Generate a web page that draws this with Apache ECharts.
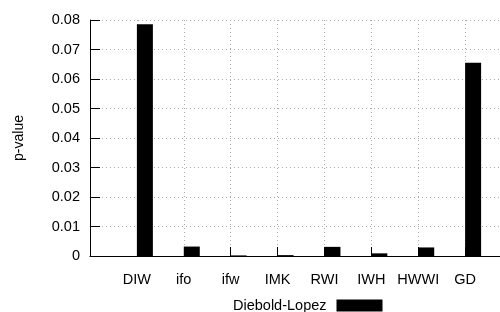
<!DOCTYPE html>
<html>
<head>
<meta charset="utf-8">
<script src="https://cdn.jsdelivr.net/npm/echarts@6/dist/echarts.min.js"></script>
<style>html,body{margin:0;padding:0;background:#fff;}#c{width:500px;height:312px;}</style>
</head>
<body>
<div id="c"></div>
<script>
const categories = ['DIW', 'ifo', 'ifw', 'IMK', 'RWI', 'IWH', 'HWWI', 'GD'];
const pValues = [0.0786, 0.0032, 0.0002, 0.0003, 0.0031, 0.0009, 0.0029, 0.0655];
const seriesName = 'Diebold-Lopez';
const yTicks = [0, 0.01, 0.02, 0.03, 0.04, 0.05, 0.06, 0.07, 0.08];

const font = 'Liberation Sans, Arial, sans-serif';
// padded category list: an empty slot at the axis origin and one past the right edge
const axisCats = [''].concat(categories, ['']);
const barData = [null].concat(pValues, [null]);

const chart = echarts.init(document.getElementById('c'), null, {renderer: 'canvas'});
chart.setOption({
  animation: false,
  backgroundColor: '#fff',
  grid: {left: 90, right: -12, top: 20, bottom: 56, containLabel: false, outerBoundsMode: 'none'},
  legend: {
    data: [seriesName],
    left: 233, top: 298, padding: 0,
    align: 'right',
    itemWidth: 46, itemHeight: 12,
    icon: 'rect',
    textStyle: {fontFamily: font, fontSize: 14.5, color: '#000', padding: [0, 5, 0, 0]}
  },
  xAxis: {
    type: 'category',
    data: axisCats,
    boundaryGap: false,
    axisLine: {show: true, lineStyle: {color: '#000', width: 1}},
    axisTick: {show: true, inside: true, length: 9, lineStyle: {color: '#000'}},
    axisLabel: {margin: 16, fontFamily: font, fontSize: 14.5, color: '#000', interval: 0},
    splitLine: {show: true, interval: 0, lineStyle: {color: '#aaa', type: [1, 3], width: 1}}
  },
  yAxis: {
    type: 'value',
    min: yTicks[0], max: yTicks[yTicks.length - 1], interval: 0.01,
    name: 'p-value', nameLocation: 'middle', nameGap: 64, nameRotate: 90,
    nameTextStyle: {fontFamily: font, fontSize: 14, color: '#000'},
    axisLine: {show: true, lineStyle: {color: '#000', width: 1}},
    axisTick: {show: true, inside: true, length: 10, lineStyle: {color: '#000'}},
    axisLabel: {margin: 10, fontFamily: font, fontSize: 14.5, color: '#000',
      formatter: v => String(+v.toFixed(2))},
    splitLine: {show: true, lineStyle: {color: '#aaa', type: [1, 3], width: 1}}
  },
  series: [
    {name: 'spacer', type: 'bar', data: axisCats.map(() => null), barWidth: 16, barGap: 0, silent: true, itemStyle: {color: 'transparent'}},
    {name: seriesName, type: 'bar', data: barData, barWidth: 16, barGap: 0,
      itemStyle: {color: '#000'}}
  ]
});
</script>
</body>
</html>
